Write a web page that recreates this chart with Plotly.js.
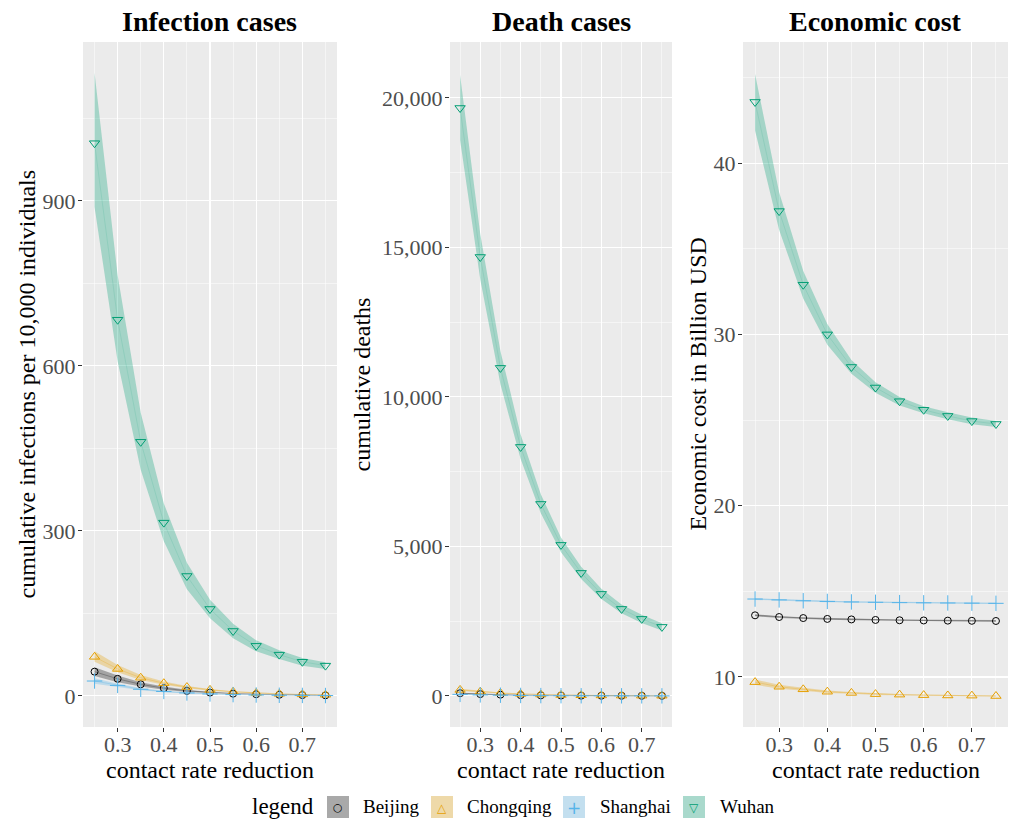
<!DOCTYPE html>
<html>
<head>
<meta charset="utf-8">
<script src="https://cdn.plot.ly/plotly-3.0.1.min.js"></script>
<style>html,body{margin:0;padding:0;background:#fff;}#chart{width:1017px;height:825px;}</style>
</head>
<body>
<div id="chart"></div>
<script>
// ---------- data ----------
const contactReduction = [0.25, 0.30, 0.35, 0.40, 0.45, 0.50, 0.55, 0.60, 0.65, 0.70, 0.75];
const cities = ["Beijing", "Chongqing", "Shanghai", "Wuhan"];

// Infection cases (per 10,000 individuals)
const infBeijing      = [44, 31, 21, 14, 9, 6, 4, 3, 2, 1.5, 1];
const infBeijingLo    = [36, 25, 17, 11, 7, 5, 3, 2.3, 1.6, 1.2, 0.8];
const infBeijingHi    = [52, 37, 25, 17, 11, 7, 5, 3.5, 2.5, 2, 1.3];
const infChongqing    = [71, 49, 33, 23, 16, 11, 7.5, 5.2, 3.7, 2.7, 2];
const infChongqingLo  = [62, 43, 29, 20, 14, 9.5, 6.5, 4.5, 3.2, 2.3, 1.7];
const infChongqingHi  = [81, 56, 38, 26, 18, 12.5, 8.5, 6, 4.2, 3.1, 2.3];
const infShanghai     = [27, 19, 12, 8, 5.3, 3.5, 2.3, 1.6, 1.1, 0.8, 0.6];
const infShanghaiLo   = [22, 16, 10, 6.6, 4.4, 2.9, 1.9, 1.3, 0.9, 0.7, 0.5];
const infShanghaiHi   = [32, 22, 14.5, 9.5, 6.3, 4.2, 2.8, 1.9, 1.3, 1, 0.7];
const infWuhan        = [1005, 684, 462, 315, 218, 158, 118, 91, 75, 62, 55];
const infWuhanLo      = [889, 608, 411, 281, 194, 141, 105, 81, 67, 55, 49];
const infWuhanHi      = [1133, 765, 515, 350, 242, 175, 131, 101, 83, 69, 61];

// Death cases
const dthBeijing      = [90, 60, 40, 26, 17, 11, 7, 5, 3.5, 2.5, 2];
const dthBeijingLo    = [72, 48, 32, 21, 14, 9, 5.6, 4, 2.8, 2, 1.6];
const dthBeijingHi    = [108, 72, 48, 31, 20, 13, 8.4, 6, 4.2, 3, 2.4];
const dthChongqing    = [200, 140, 95, 65, 45, 30, 21, 15, 10, 7, 5];
const dthChongqingLo  = [165, 115, 78, 53, 37, 25, 17, 12, 8, 5.7, 4];
const dthChongqingHi  = [240, 168, 114, 78, 54, 36, 25, 18, 12, 8.4, 6];
const dthShanghai     = [50, 33, 22, 14, 9, 6, 4, 3, 2, 1.5, 1];
const dthShanghaiLo   = [40, 26, 17, 11, 7, 4.8, 3.2, 2.4, 1.6, 1.2, 0.8];
const dthShanghaiHi   = [60, 40, 27, 17, 11, 7.2, 4.8, 3.6, 2.4, 1.8, 1.2];
const dthWuhan        = [19663, 14680, 10970, 8327, 6420, 5050, 4113, 3411, 2909, 2575, 2307];
const dthWuhanLo      = [18590, 13930, 10420, 7920, 6110, 4800, 3910, 3240, 2760, 2440, 2190];
const dthWuhanHi      = [20770, 15450, 11530, 8740, 6740, 5300, 4320, 3580, 3060, 2710, 2430];

// Economic cost (billion USD)
const ecoBeijing      = [13.6, 13.5, 13.44, 13.39, 13.36, 13.33, 13.31, 13.3, 13.29, 13.28, 13.27];
const ecoBeijingLo    = [13.54, 13.45, 13.39, 13.34, 13.31, 13.28, 13.26, 13.25, 13.24, 13.23, 13.22];
const ecoBeijingHi    = [13.66, 13.55, 13.49, 13.44, 13.41, 13.38, 13.36, 13.35, 13.34, 13.33, 13.32];
const ecoChongqing    = [9.7, 9.43, 9.28, 9.14, 9.07, 9.0, 8.97, 8.94, 8.92, 8.91, 8.89];
const ecoChongqingLo  = [9.55, 9.31, 9.19, 9.07, 9.02, 8.95, 8.93, 8.90, 8.88, 8.88, 8.86];
const ecoChongqingHi  = [9.85, 9.55, 9.37, 9.21, 9.12, 9.05, 9.01, 8.98, 8.96, 8.94, 8.92];
const ecoShanghai     = [14.55, 14.5, 14.45, 14.41, 14.38, 14.36, 14.34, 14.33, 14.32, 14.31, 14.3];
const ecoShanghaiLo   = [14.5, 14.46, 14.41, 14.37, 14.34, 14.32, 14.3, 14.29, 14.28, 14.27, 14.26];
const ecoShanghaiHi   = [14.6, 14.54, 14.49, 14.45, 14.42, 14.4, 14.38, 14.37, 14.36, 14.35, 14.34];
const ecoWuhan        = [43.57, 37.2, 32.9, 30.0, 28.1, 26.9, 26.1, 25.6, 25.24, 24.94, 24.77];
const ecoWuhanLo      = [41.9, 36.1, 32.1, 29.4, 27.7, 26.6, 25.85, 25.4, 25.05, 24.75, 24.6];
const ecoWuhanHi      = [45.2, 38.3, 33.7, 30.6, 28.5, 27.2, 26.35, 25.8, 25.45, 25.15, 24.95];

const panelTitles = ["Infection cases", "Death cases", "Economic cost"];
const yTitles = ["cumulative infections per 10,000 individuals", "cumulative deaths", "Economic cost in Billion USD"];
const xTitle = "contact rate reduction";
const legendTitle = "legend";

// ---------- styles ----------
const style = {
  Beijing:   {color: "#000000", ribbon: "rgba(0,0,0,0.3)",        line: "rgba(0,0,0,0.25)",        symbol: "circle-open",        size: 7},
  Chongqing: {color: "#E69F00", ribbon: "rgba(230,159,0,0.3)",    line: "rgba(230,159,0,0.25)",    symbol: "triangle-up-open",   size: 9},
  Shanghai:  {color: "#56B4E9", ribbon: "rgba(86,180,233,0.3)",   line: "rgba(86,180,233,0.3)",    symbol: "cross-thin-open",    size: 11},
  Wuhan:     {color: "#009E73", ribbon: "rgba(0,158,115,0.3)",    line: "rgba(0,158,115,0.12)",    symbol: "triangle-down-open", size: 9}
};

const panels = [
  {xa: "x",  ya: "y",  series: {Beijing: [infBeijing, infBeijingLo, infBeijingHi], Chongqing: [infChongqing, infChongqingLo, infChongqingHi], Shanghai: [infShanghai, infShanghaiLo, infShanghaiHi], Wuhan: [infWuhan, infWuhanLo, infWuhanHi]}},
  {xa: "x2", ya: "y2", series: {Beijing: [dthBeijing, dthBeijingLo, dthBeijingHi], Chongqing: [dthChongqing, dthChongqingLo, dthChongqingHi], Shanghai: [dthShanghai, dthShanghaiLo, dthShanghaiHi], Wuhan: [dthWuhan, dthWuhanLo, dthWuhanHi]}},
  {xa: "x3", ya: "y3", series: {Beijing: [ecoBeijing, ecoBeijingLo, ecoBeijingHi], Chongqing: [ecoChongqing, ecoChongqingLo, ecoChongqingHi], Shanghai: [ecoShanghai, ecoShanghaiLo, ecoShanghaiHi], Wuhan: [ecoWuhan, ecoWuhanLo, ecoWuhanHi]}}
];

const traces = [];
panels.forEach(p => {
  cities.forEach(c => {
    const [mid, lo, hi] = p.series[c];
    traces.push({
      type: "scatter", mode: "lines", xaxis: p.xa, yaxis: p.ya,
      x: contactReduction.concat(contactReduction.slice().reverse()),
      y: hi.concat(lo.slice().reverse()),
      fill: "toself", fillcolor: style[c].ribbon, line: {width: 0},
      hoverinfo: "skip", showlegend: false
    });
  });
  cities.forEach(c => {
    const [mid] = p.series[c];
    traces.push({
      type: "scatter", mode: "lines+markers", xaxis: p.xa, yaxis: p.ya, name: c,
      x: contactReduction, y: mid,
      line: {color: style[c].line, width: 1},
      marker: {symbol: style[c].symbol, size: style[c].size, color: style[c].color, line: {color: style[c].color, width: 1}},
      showlegend: false
    });
  });
});

// ---------- layout ----------
const W = 1017, H = 825;
const px = v => v / W, py = v => 1 - v / H;
const serif = "Liberation Serif, Times New Roman, serif";
const tickFont = {family: serif, size: 22, color: "#4d4d4d"};
const titleFont = {family: serif, size: 24, color: "#000"};

function xAxis(domain, anchor) {
  return {
    domain: domain, anchor: anchor, range: [0.225, 0.775],
    tickvals: [0.3, 0.4, 0.5, 0.6, 0.7], ticktext: ["0.3", "0.4", "0.5", "0.6", "0.7"],
    ticks: "outside", ticklen: 4, tickcolor: "#333", tickwidth: 1,
    tickfont: tickFont, ticklabelstandoff: -6,
    showgrid: true, gridcolor: "#ffffff", gridwidth: 1.1, zeroline: false, showline: false,
    minor: {tickvals: [0.25, 0.35, 0.45, 0.55, 0.65, 0.75], showgrid: true, gridcolor: "#ffffff", gridwidth: 0.5, ticks: ""},
    automargin: false, fixedrange: true
  };
}
function yAxis(domain, anchor, range, tickvals, minorvals, fmt) {
  return {
    domain: domain, anchor: anchor, range: range,
    tickvals: tickvals, tickformat: fmt,
    ticks: "outside", ticklen: 4, tickcolor: "#333", tickwidth: 1,
    tickfont: tickFont, ticklabelstandoff: -2,
    showgrid: true, gridcolor: "#ffffff", gridwidth: 1.1, zeroline: false, showline: false,
    minor: {tickvals: minorvals, showgrid: true, gridcolor: "#ffffff", gridwidth: 0.5, ticks: ""},
    automargin: false, fixedrange: true
  };
}

const yDom = [py(727), py(42)];
const d1 = [px(83), px(337)], d2 = [px(450), px(672)], d3 = [px(743), px(1008)];
const yTitleX = [26, 361, 697];

const annotations = [];
[d1, d2, d3].forEach((d, i) => {
  annotations.push({xref: "paper", yref: "paper", x: (d[0] + d[1]) / 2, y: py(21), xanchor: "center", yanchor: "middle",
    text: "<b>" + panelTitles[i] + "</b>", showarrow: false, font: {family: serif, size: 28, color: "#000"}});
  annotations.push({xref: "paper", yref: "paper", x: (d[0] + d[1]) / 2, y: py(770), xanchor: "center", yanchor: "middle",
    text: xTitle, showarrow: false, font: titleFont});
  annotations.push({xref: "paper", yref: "paper", x: px(yTitleX[i]), y: (yDom[0] + yDom[1]) / 2, xanchor: "center", yanchor: "middle",
    text: yTitles[i], textangle: -90, showarrow: false, font: titleFont});
});

// manual legend (ggplot style)
const shapes = [];
annotations.push({xref: "paper", yref: "paper", x: px(250), y: py(806), xanchor: "left", yanchor: "middle",
  text: legendTitle, showarrow: false, font: {family: serif, size: 23, color: "#000"}});
const legendKeys = [
  {city: "Beijing",   k0: 327, lab: 361, glyph: "○", gsize: 11},
  {city: "Chongqing", k0: 431, lab: 465, glyph: "△", gsize: 12},
  {city: "Shanghai",  k0: 563, lab: 598, glyph: "+", gsize: 17},
  {city: "Wuhan",     k0: 683, lab: 718, glyph: "▽", gsize: 12}
];
legendKeys.forEach(k => {
  shapes.push({type: "rect", xref: "paper", yref: "paper", x0: px(k.k0), x1: px(k.k0 + 22), y0: py(818), y1: py(796),
    fillcolor: "#f2f2f2", line: {width: 0}, layer: "above"});
  shapes.push({type: "rect", xref: "paper", yref: "paper", x0: px(k.k0), x1: px(k.k0 + 22), y0: py(818), y1: py(796),
    fillcolor: style[k.city].ribbon, line: {width: 0}, layer: "above"});
  annotations.push({xref: "paper", yref: "paper", x: px(k.k0 + 11), y: py(807.5), xanchor: "center", yanchor: "middle",
    text: k.glyph, showarrow: false, font: {family: "DejaVu Sans", size: k.gsize, color: style[k.city].color}});
  annotations.push({xref: "paper", yref: "paper", x: px(k.lab), y: py(806), xanchor: "left", yanchor: "middle",
    text: k.city, showarrow: false, font: {family: serif, size: 19, color: "#000"}});
});

const layout = {
  width: W, height: H, margin: {l: 0, r: 0, t: 0, b: 0},
  paper_bgcolor: "#ffffff", plot_bgcolor: "#ebebeb", showlegend: false,
  xaxis: xAxis(d1, "y"), xaxis2: xAxis(d2, "y2"), xaxis3: xAxis(d3, "y3"),
  yaxis:  yAxis(yDom, "x",  [-56.6, 1189], [0, 300, 600, 900], [150, 450, 750, 1050], "d"),
  yaxis2: yAxis(yDom, "x2", [-1041, 21870], [0, 5000, 10000, 15000, 20000], [2500, 7500, 12500, 17500], ",d"),
  yaxis3: yAxis(yDom, "x3", [7.08, 47.07], [10, 20, 30, 40], [15, 25, 35, 45], "d"),
  annotations: annotations, shapes: shapes
};

Plotly.newPlot("chart", traces, layout, {displayModeBar: false, staticPlot: true});
</script>
</body>
</html>
